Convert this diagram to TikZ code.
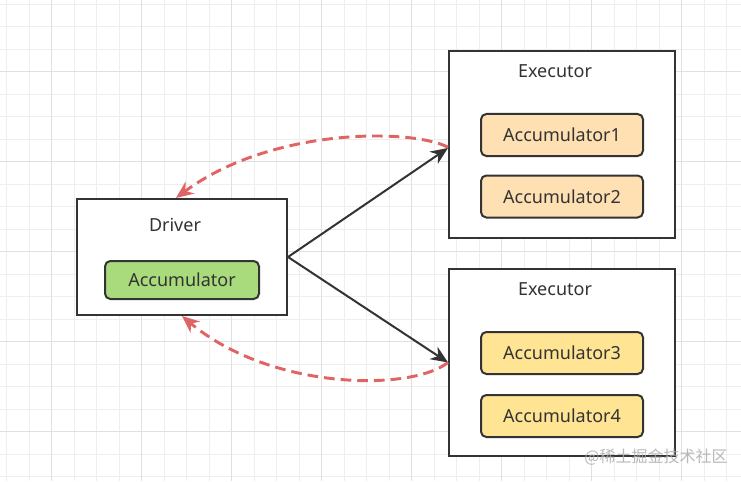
\documentclass[tikz,border=0pt]{standalone}
\usepackage{fontspec}
\setmainfont{Noto Sans}
\newfontfamily\cjk{Noto Sans CJK SC}
\usetikzlibrary{arrows.meta}
\definecolor{linegray}{HTML}{333333}
\definecolor{accgreen}{HTML}{A9DA7C}
\definecolor{accorange}{HTML}{FFE0B3}
\definecolor{accyellow}{HTML}{FFE494}
\definecolor{backred}{HTML}{E06464}
\definecolor{gridminor}{HTML}{EEEEEE}
\definecolor{gridmajor}{HTML}{E0E0E0}

\begin{document}
\begin{tikzpicture}[x=0.75pt, y=-0.75pt,
    Box/.style={draw=linegray, fill=white, line width=1.5pt, inner sep=0pt},
    Acc/.style={draw=linegray, fill=#1, line width=1.5pt, rounded corners=4pt, inner sep=0pt, font=\fontsize{13.5}{16}\selectfont, text=linegray},
    Title/.style={font=\fontsize{13.5}{16}\selectfont, text=linegray},
    Send/.style={-{Stealth[length=13pt, width=11pt]}, draw=linegray, line width=1.5pt},
    Back/.style={-{Stealth[length=13pt, width=11pt]}, draw=backred, line width=2.2pt, dash pattern=on 8pt off 4.5pt}]
        \useasboundingbox (0,0) rectangle (741,481);
        \fill[white] (0,0) rectangle (741,481);
        % grid
        \foreach \k in {0,...,32} \draw[gridminor, line width=0.75pt] (6.7+22.5*\k,0) -- (6.7+22.5*\k,481);
        \foreach \k in {0,...,21} \draw[gridminor, line width=0.75pt] (0,4.2+22.5*\k) -- (741,4.2+22.5*\k);
        \foreach \k in {0,...,7} \draw[gridmajor, line width=0.75pt] (51.7+90*\k,0) -- (51.7+90*\k,481);
        \foreach \k in {0,...,4} \draw[gridmajor, line width=0.75pt] (0,71.7+90*\k) -- (741,71.7+90*\k);

        \node[Box, minimum width=157.5pt, minimum height=87pt] (D) at (182,257){};
        \node[Box, minimum width=169.5pt, minimum height=140.25pt] (E1) at (562,144.5){};
        \node[Box, minimum width=169.5pt, minimum height=140.25pt] (E2) at (562,362.5){};

        \node[Title] (TD) at (175,225) {Driver};
        \node[Title] (TE1) at (555,71) {Executor};
        \node[Title] (TE2) at (555,289) {Executor};

        \node[Acc=accgreen, minimum width=115.5pt, minimum height=28.5pt] (A) at (182,280) {Accumulator};
        \node[Acc=accorange, minimum width=121.5pt, minimum height=31.5pt] (A1) at (562,135) {Accumulator1};
        \node[Acc=accorange, minimum width=121.5pt, minimum height=31.5pt] (A2) at (562,196.5) {Accumulator2};
        \node[Acc=accyellow, minimum width=121.5pt, minimum height=31.5pt] (A3) at (562,353) {Accumulator3};
        \node[Acc=accyellow, minimum width=121.5pt, minimum height=31.5pt] (A4) at (562,416) {Accumulator4};

        \draw[Send] (D.east) -- ([yshift=-2.6pt]E1.west);
        \draw[Send] (D.east) -- (E2.west);
        \draw[Back] ([yshift=-2pt]E1.west) .. controls (410,128) and (270,128) .. ([xshift=-4.5pt]D.north);
        \draw[Back] (E2.west) .. controls (410,392) and (270,390) .. (D.south);

        \node[font=\cjk\fontsize{12}{14}\selectfont, text=gray!65, opacity=0.85] (W) at (656,457) {@稀土掘金技术社区};
    \end{tikzpicture}
\end{document}
